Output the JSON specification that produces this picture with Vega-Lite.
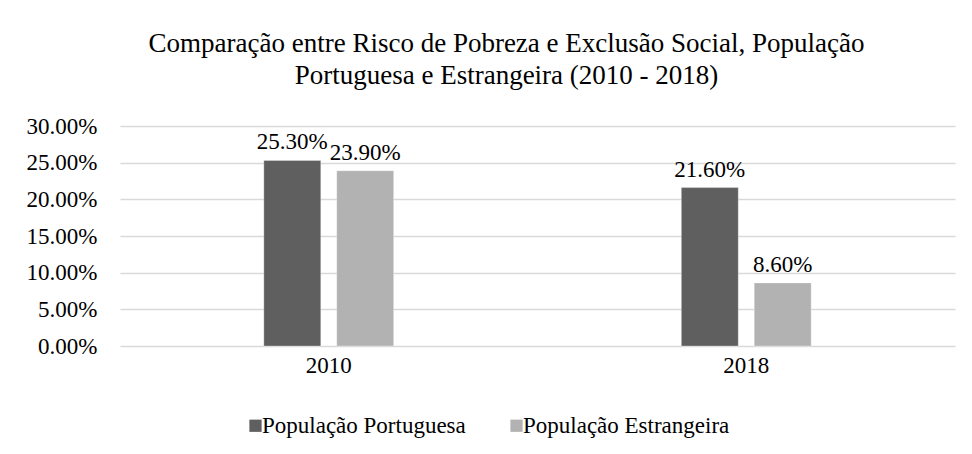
{
  "$schema": "https://vega.github.io/schema/vega-lite/v6.json",
  "autosize": {"type": "none"},
  "width": 835,
  "height": 220,
  "padding": {"left": 120, "top": 126, "right": 17, "bottom": 108},
  "background": "white",
  "title": {
    "text": ["Comparação entre Risco de Pobreza e Exclusão Social, População", "Portuguesa e Estrangeira (2010 - 2018)"],
    "font": "Liberation Serif",
    "fontSize": 27,
    "fontWeight": "normal",
    "color": "#000000",
    "anchor": "middle",
    "lineHeight": 32,
    "offset": 25,
    "dx": -31
  },
  "data": {
    "values": [
      {"ano": "2010", "grupo": "População Portuguesa", "valor": 0.253},
      {"ano": "2010", "grupo": "População Estrangeira", "valor": 0.239},
      {"ano": "2018", "grupo": "População Portuguesa", "valor": 0.216},
      {"ano": "2018", "grupo": "População Estrangeira", "valor": 0.086}
    ]
  },
  "encoding": {
    "x": {
      "field": "ano", "type": "nominal",
      "scale": {"paddingInner": 0.689, "paddingOuter": 0.3445},
      "axis": {"title": null, "labelAngle": 0, "ticks": false, "domain": false, "labelFont": "Liberation Serif", "labelFontSize": 23, "labelColor": "#000000", "labelPadding": 8}
    },
    "xOffset": {
      "field": "grupo", "type": "nominal",
      "sort": ["População Portuguesa", "População Estrangeira"],
      "scale": {"paddingInner": 0.219, "paddingOuter": 0}
    },
    "y": {
      "field": "valor", "type": "quantitative",
      "scale": {"domain": [0, 0.3]},
      "axis": {"title": null, "format": ".2%", "values": [0, 0.05, 0.1, 0.15, 0.2, 0.25, 0.3], "ticks": false, "domain": false, "gridColor": "#d9d9d9", "gridWidth": 1.5, "labelFont": "Liberation Serif", "labelFontSize": 23, "labelColor": "#000000", "labelPadding": 23}
    }
  },
  "layer": [
    {
      "mark": {"type": "bar", "stroke": "#ffffff", "strokeOpacity": 0.3, "strokeWidth": 1},
      "encoding": {
        "color": {
          "field": "grupo", "type": "nominal",
          "sort": ["População Portuguesa", "População Estrangeira"],
          "scale": {"domain": ["População Portuguesa", "População Estrangeira"], "range": ["#5f5f5f", "#b2b2b2"]},
          "legend": {
            "title": null, "orient": "none", "direction": "horizontal",
            "legendX": 124, "legendY": 288,
            "symbolType": "square", "symbolSize": 150, "symbolStrokeWidth": 0,
            "labelFont": "Liberation Serif", "labelFontSize": 23, "labelColor": "#000000",
            "labelOffset": -5, "columnPadding": 39, "labelLimit": 400
          }
        }
      }
    },
    {
      "mark": {"type": "text", "baseline": "alphabetic", "dy": -11, "font": "Liberation Serif", "fontSize": 23, "color": "#000000"},
      "encoding": {
        "text": {"field": "valor", "type": "quantitative", "format": ".2%"}
      }
    }
  ],
  "config": {"view": {"stroke": null}}
}
